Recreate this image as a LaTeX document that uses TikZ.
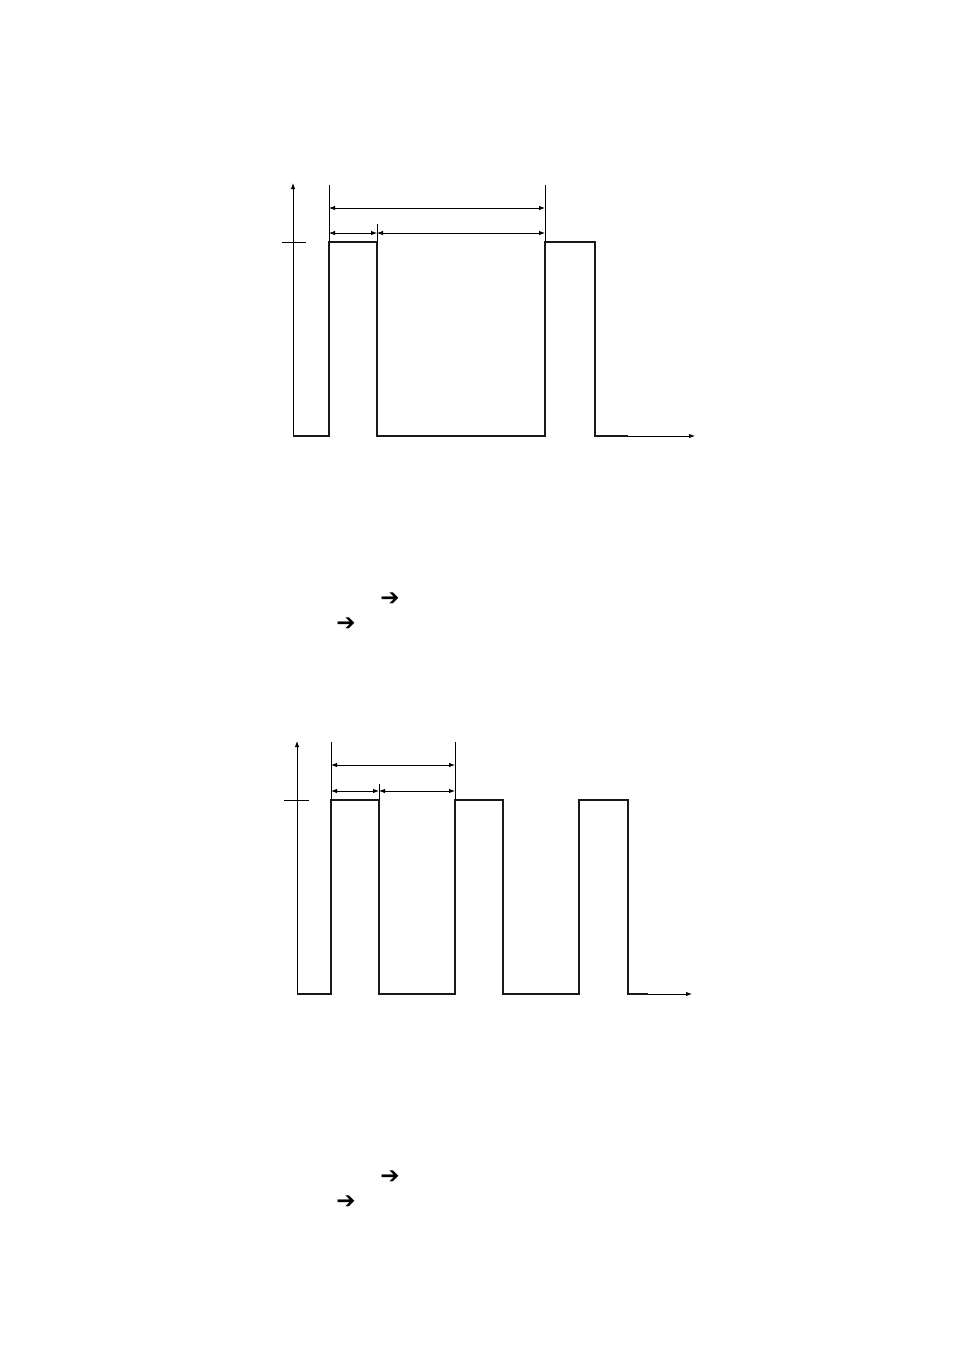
\documentclass[tikz,border=0pt]{standalone}
\usepackage{fontspec}
\newfontfamily\symfont{DejaVu Sans}
\usetikzlibrary{arrows.meta}
\tikzset{
  sig/.style={line width=2.6pt, line join=miter, color=black!90},
  axis/.style={line width=0.9pt, -{Latex[length=6pt,width=4.5pt]}},
  thin/.style={line width=0.9pt},
  dim/.style={line width=0.9pt, {Latex[length=6pt,width=4.5pt]}-{Latex[length=6pt,width=4.5pt]}},
  glyph/.style={inner sep=0pt, font=\symfont\bfseries\fontsize{23}{23}\selectfont}
}
\begin{document}
\begin{tikzpicture}[x=1pt,y=-1pt]
\useasboundingbox (0,0) rectangle (954,1350);
% ---------- top diagram ----------
\draw[axis] (293,436) -- (293,183);
\draw[thin] (282,242) -- (306,242);
\draw[axis] (600,436) -- (695,436);
\draw[sig] (293,436) -- (329,436) -- (329,242) -- (377,242) -- (377,436) -- (545,436) -- (545,242) -- (595,242) -- (595,436) -- (628,436);
\draw[thin] (329,242) -- (329,185);
\draw[thin] (545,242) -- (545,185);
\draw[thin] (377,242) -- (377,224);
\draw[dim] (329,208) -- (545,208);
\draw[dim] (329,233) -- (377,233);
\draw[dim] (377,233) -- (545,233);
\node[glyph] (a1) at (390,599) {➔};
\node[glyph] (a2) at (346,624) {➔};
% ---------- bottom diagram ----------
\draw[axis] (297,994) -- (297,741);
\draw[thin] (284,800) -- (309,800);
\draw[axis] (640,994) -- (692,994);
\draw[sig] (297,994) -- (331,994) -- (331,800) -- (379,800) -- (379,994) -- (455,994) -- (455,800) -- (503,800) -- (503,994) -- (579,994) -- (579,800) -- (628,800) -- (628,994) -- (648,994);
\draw[thin] (331,800) -- (331,742);
\draw[thin] (455,800) -- (455,742);
\draw[thin] (379,800) -- (379,784);
\draw[dim] (331,765) -- (455,765);
\draw[dim] (331,791) -- (379,791);
\draw[dim] (379,791) -- (455,791);
\node[glyph] (b1) at (390,1177) {➔};
\node[glyph] (b2) at (346,1202) {➔};
\end{tikzpicture}
\end{document}
